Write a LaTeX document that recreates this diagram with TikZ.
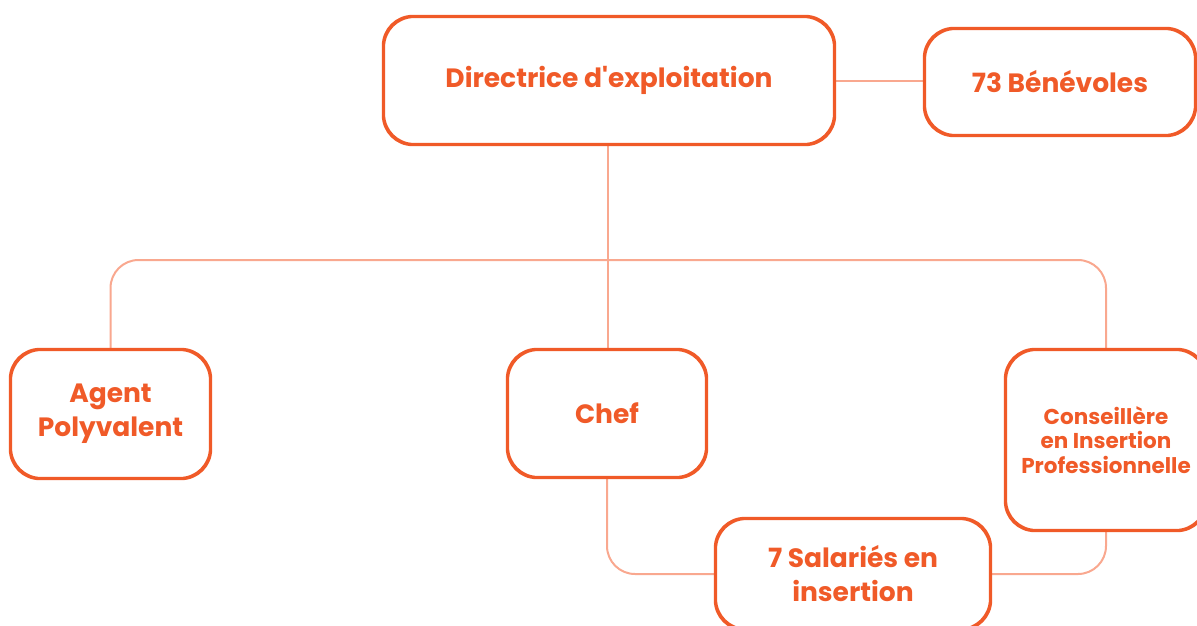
\documentclass[tikz,border=0pt]{standalone}
\usepackage{fontspec}
\setmainfont{Poppins}
\usepackage{xcolor}
\usepackage{tikz}
\usetikzlibrary{positioning,calc}

\definecolor{boxline}{HTML}{F05A28}
\definecolor{linkline}{HTML}{F9A88F}

\begin{document}
\begin{tikzpicture}[x=1pt, y=-1pt,
    post/.style={rectangle, rounded corners=30pt, draw=boxline, line width=2.2pt, fill=white,
        text=boxline, font=\bfseries\fontsize{26.5}{34}\selectfont, align=center, inner sep=0pt},
    small/.style={font=\bfseries\fontsize{21.5}{24.5}\selectfont},
    link/.style={draw=linkline, line width=2pt, rounded corners=28pt}
]
    \useasboundingbox (0,0) rectangle (1197,625);

    \coordinate (bar) at (608,260);

    % Top level
    \node[post, minimum width=450pt, minimum height=127pt] (dir) at (609,80.5) {Directrice d\textquotesingle exploitation};
    \node[post, minimum width=270pt, minimum height=106pt] (benev) at (1060,82) {73 Bénévoles};

    % Second level
    \node[post, minimum width=199pt, minimum height=128pt] (agent) at (110.5,414) {Agent\\Polyvalent};
    \node[post, minimum width=198pt, minimum height=127pt] (chef) at (607,413.5) {Chef};
    \node[post, small, minimum width=200pt, minimum height=180pt] (cip) at (1106,440) {Conseillère\\en Insertion\\Professionnelle};

    % Third level
    \node[post, minimum width=274pt, minimum height=110pt] (sal) at (853,574) {7 Salariés en\\insertion};

    % Connectors
    \draw[link] (dir.east) -- (dir.east -| benev.west);
    \draw[link] (dir.south -| bar) -- (chef.north -| bar);
    \draw[link] (agent.north) |- (bar) -| (cip.north);
    \draw[link] (chef.south) |- (sal.west);
    \draw[link] (cip.south) |- (sal.east);

    % Redraw box outlines over the links
    \foreach \n in {dir,benev,agent,chef,cip,sal}{
        \draw[boxline, line width=2.2pt, rounded corners=30pt] (\n.south west) rectangle (\n.north east);
    }
\end{tikzpicture}
\end{document}
